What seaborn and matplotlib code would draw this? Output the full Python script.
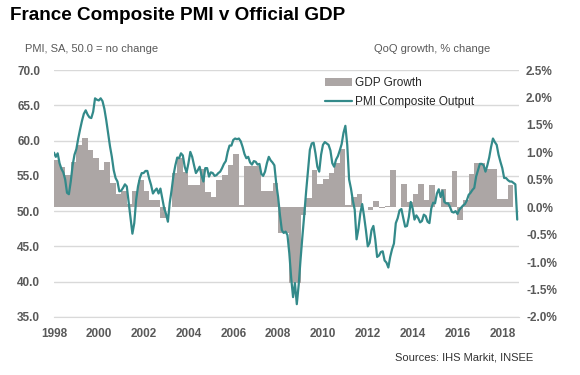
import matplotlib
matplotlib.use("Agg")
import matplotlib.pyplot as plt
import numpy as np
import pandas as pd
import seaborn as sns

# PMI composite output, monthly from Jan 1998 (one row per year)
pmi_1998 = [58.3, 57.7, 58.2, 56.8, 56.0, 55.5, 54.5, 52.6, 52.4, 54.2, 56.5, 58.0]
pmi_1999 = [58.8, 60.3, 61.6, 62.8, 63.8, 64.3, 63.7, 63.3, 63.2, 64.1, 66.0, 65.8]
pmi_2000 = [65.7, 66.0, 65.6, 64.5, 62.9, 61.0, 59.2, 57.7, 55.8, 54.7, 54.2, 52.8]
pmi_2001 = [52.9, 53.3, 53.8, 53.5, 51.3, 49.0, 46.8, 48.3, 51.6, 53.5, 54.7, 55.4]
pmi_2002 = [55.4, 55.7, 55.7, 54.6, 53.7, 52.5, 52.9, 53.2, 52.5, 53.2, 51.8, 50.4]
pmi_2003 = [49.6, 48.5, 51.2, 53.0, 55.1, 56.5, 57.6, 57.5, 58.2, 57.9, 56.3, 55.5]
pmi_2004 = [56.8, 58.4, 57.7, 56.5, 55.4, 55.8, 56.3, 55.1, 54.2, 56.1, 56.1, 54.9]
pmi_2005 = [55.5, 55.4, 55.0, 55.1, 55.4, 55.6, 56.1, 56.7, 57.1, 58.4, 59.3, 59.3]
pmi_2006 = [60.1, 60.3, 60.2, 60.3, 59.9, 59.1, 58.1, 57.5, 57.7, 56.9, 56.6, 57.1]
pmi_2007 = [57.0, 56.6, 56.7, 55.3, 55.0, 55.6, 56.8, 57.7, 57.2, 56.9, 56.5, 53.9]
pmi_2008 = [52.0, 49.4, 47.3, 46.9, 47.1, 46.6, 44.0, 40.5, 37.8, 39.8, 36.8, 39.5]
pmi_2009 = [43.1, 46.4, 49.5, 52.8, 55.8, 58.7, 59.6, 59.7, 58.2, 56.3, 55.6, 58.0]
pmi_2010 = [59.4, 59.8, 59.6, 59.4, 58.6, 56.8, 56.3, 57.3, 57.8, 58.6, 59.5, 61.1]
pmi_2011 = [62.1, 59.4, 54.5, 53.2, 51.5, 50.2, 46.0, 47.5, 49.7, 51.0, 49.3, 47.3]
pmi_2012 = [45.0, 45.5, 47.3, 47.9, 46.0, 43.5, 43.7, 44.2, 44.3, 43.0, 42.7, 42.0]
pmi_2013 = [43.5, 44.6, 45.4, 48.3, 49.0, 50.1, 50.3, 49.0, 47.8, 47.9, 49.2, 51.3]
pmi_2014 = [50.4, 48.8, 49.4, 49.0, 48.4, 48.6, 49.5, 49.3, 48.5, 48.3, 50.4, 51.2]
pmi_2015 = [51.1, 52.5, 53.1, 52.0, 52.9, 51.3, 51.1, 51.1, 50.6, 49.9, 49.8, 50.0]
pmi_2016 = [49.6, 50.2, 50.5, 50.8, 51.0, 51.5, 52.3, 52.6, 53.0, 53.3, 54.9, 55.8]
pmi_2017 = [56.7, 56.7, 56.5, 55.6, 56.5, 57.6, 59.1, 60.3, 59.8, 59.4, 58.0, 57.0]
pmi_2018 = [56.1, 54.7, 54.7, 54.4, 54.2, 54.2, 54.0, 53.8, 48.8]

# GDP growth q/q %, one bar per quarter from 1998 Q1
gdp_growth = [0.86, 0.73, 0.58, 0.83, 1.13, 1.26, 1.04, 0.89,
              0.67, 0.82, 0.44, 0.25, 0.30, 0.05, 0.30, 0.50,
              0.30, 0.13, 0.13, -0.20, 0.00, 0.62, 0.90, 0.65,
              0.40, 0.40, 0.70, 0.27, 0.18, 0.50, 0.58, 0.77,
              0.97, 0.04, 0.76, 0.76, 0.76, 0.30, 0.30, 0.44,
              -0.47, -0.47, -1.38, -1.38, -0.15, 0.17, 0.67, 0.42,
              0.52, 0.62, 0.80, 1.06, 0.04, 0.18, 0.25, 0.00,
              -0.05, 0.12, -0.02, 0.02, 0.67, 0.00, 0.42, 0.10,
              0.25, 0.42, 0.13, 0.40, 0.00, 0.34, 0.10, 0.66,
              -0.24, 0.13, 0.60, 0.80, 0.80, 0.69, 0.69, 0.15,
              0.15, 0.40]

pmi_ticks = [35, 40, 45, 50, 55, 60, 65, 70]
gdp_ticks = [-2.0, -1.5, -1.0, -0.5, 0.0, 0.5, 1.0, 1.5, 2.0, 2.5]
year_ticks = list(range(1998, 2019, 2))

pmi_all = (pmi_1998 + pmi_1999 + pmi_2000 + pmi_2001 + pmi_2002 + pmi_2003 + pmi_2004
           + pmi_2005 + pmi_2006 + pmi_2007 + pmi_2008 + pmi_2009 + pmi_2010 + pmi_2011
           + pmi_2012 + pmi_2013 + pmi_2014 + pmi_2015 + pmi_2016 + pmi_2017 + pmi_2018)
pmi_df = pd.DataFrame({"date": 1998 + np.arange(len(pmi_all)) / 12.0, "pmi": pmi_all})
gdp_df = pd.DataFrame({"date": 1998 + np.arange(len(gdp_growth)) * 0.25, "gdp": gdp_growth})

sns.set_style("white")
plt.rcParams['font.family'] = ['Liberation Sans', 'DejaVu Sans']

teal = "#338a8a"
bar_grey = "#aca6a5"
grid_grey = "#d9d9d9"
label_grey = "#595959"

fig = plt.figure(figsize=(5.8, 3.75), dpi=100)
ax = fig.add_axes([0.093, 0.155, 0.802, 0.658])

# left axis: gridlines only
ax.set_ylim(35, 70)
ax.set_xlim(1998, 2018.75)
ax.set_yticks(pmi_ticks)
ax.set_yticklabels([f"{t:.1f}" for t in pmi_ticks])
ax.yaxis.grid(True, color=grid_grey, lw=1.0)
ax.set_xticks(year_ticks)
ax.set_xticklabels([str(y) for y in year_ticks])
for s in ["left", "right", "top"]:
    ax.spines[s].set_visible(False)
ax.spines["bottom"].set_color(grid_grey)
ax.tick_params(axis="y", length=0, pad=10, labelsize=8.5, labelcolor=label_grey)
ax.tick_params(axis="x", length=3, width=1, color=grid_grey, direction="out",
               pad=5, labelsize=8.5, labelcolor=label_grey)
for lab in ax.get_xticklabels() + ax.get_yticklabels():
    lab.set_fontweight("bold")

# right axis: GDP bars
ax2 = ax.twinx()
ax2.bar(gdp_df["date"], gdp_df["gdp"], width=0.25, align="edge",
        color=bar_grey, edgecolor="none", label="GDP Growth")
ax2.set_ylim(-2.0, 2.5)
ax2.set_yticks(gdp_ticks)
ax2.set_yticklabels([f"{t:.1f}%" for t in gdp_ticks])
ax2.tick_params(axis="y", length=0, pad=5, labelsize=8.5, labelcolor=label_grey)
for lab in ax2.get_yticklabels():
    lab.set_fontweight("bold")
for s in ax2.spines.values():
    s.set_visible(False)

# PMI line on top, sharing the left scale
ax3 = ax.twinx()
ax3.set_ylim(35, 70)
sns.lineplot(data=pmi_df, x="date", y="pmi", ax=ax3, color=teal, lw=1.6,
             label="PMI Composite Output", legend=False)
ax3.set_yticks([])
ax3.set_xlabel("")
ax3.set_ylabel("")
for s in ax3.spines.values():
    s.set_visible(False)
ax3.set_xlim(1998, 2018.75)

h2, l2 = ax2.get_legend_handles_labels()
h3, l3 = ax3.get_legend_handles_labels()
ax3.legend(h2 + h3, l2 + l3, loc="upper left", bbox_to_anchor=(0.572, 0.99),
           frameon=False, fontsize=8.5, handlelength=2.3, handletextpad=0.3,
           labelspacing=0.6, borderaxespad=0)

fig.text(0.017, 0.935, "France Composite PMI v Official GDP", fontsize=13.6,
         fontweight="bold", color="black", va="bottom")
fig.text(0.043, 0.868, "PMI, SA, 50.0 = no change", fontsize=8, color=label_grey, va="center")
fig.text(0.845, 0.868, "QoQ growth, % change", fontsize=8, color=label_grey,
         va="center", ha="right")
fig.text(0.92, 0.048, "Sources: IHS Markit, INSEE", fontsize=8, color="#333333",
         va="center", ha="right")

fig.savefig("out.png", dpi=100)
